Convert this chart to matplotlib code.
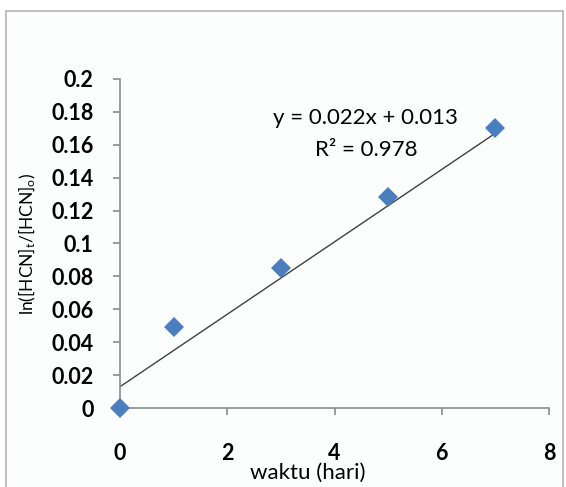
#!/usr/bin/env python3
"""Kinetika penurunan HCN: ln([HCN]t/[HCN]o) terhadap waktu, dengan garis regresi linear."""

import matplotlib
matplotlib.use("Agg")
import matplotlib.pyplot as plt
from matplotlib.patches import Rectangle

# waktu (hari) dan nilai ln([HCN]t/[HCN]o)
waktu = [0, 1, 3, 5, 7]
ln_ratio = [0.0, 0.049, 0.085, 0.128, 0.170]

# persamaan garis tren dan R²
slope = 0.022
intercept = 0.013
r2 = 0.978

x_ticks = [0, 2, 4, 6, 8]
y_ticks = [0, 0.02, 0.04, 0.06, 0.08, 0.1, 0.12, 0.14, 0.16, 0.18, 0.2]
y_tick_labels = ["0", "0.02", "0.04", "0.06", "0.08", "0.1", "0.12", "0.14", "0.16", "0.18", "0.2"]

FONT = "Lato"
AXIS_GREY = "#8c8c8c"
MARKER_BLUE = "#4a7ebf"

# upright subscripts in the same face as the rest of the text
plt.rcParams["mathtext.fontset"] = "custom"
plt.rcParams["mathtext.rm"] = FONT
plt.rcParams["mathtext.it"] = FONT

fig = plt.figure(figsize=(5.66, 4.87), dpi=100)
fig.patch.set_facecolor("white")

# chart-area frame
frame = Rectangle((0.0106, -0.02), 0.984, 0.997, transform=fig.transFigure,
                  facecolor="#fcfdfd", edgecolor="#b4b4b4", linewidth=1.2, zorder=-1)
fig.patches.append(frame)

ax = fig.add_axes([0.212, 0.162, 0.758, 0.676])
ax.set_zorder(2)
ax.set_facecolor("none")

ax.plot(waktu, ln_ratio, linestyle="none", marker="D", markersize=10.5,
        color=MARKER_BLUE, markeredgewidth=0, zorder=3, clip_on=False)

trend_x = [min(waktu), max(waktu)]
trend_y = [slope * v + intercept for v in trend_x]
ax.plot(trend_x, trend_y, color="#404040", linewidth=1.0, zorder=2)

ax.set_xlim(0, 8)
ax.set_ylim(0, 0.2)
ax.set_xticks(x_ticks)
ax.set_xticklabels([str(t) for t in x_ticks])
ax.set_yticks(y_ticks)
ax.set_yticklabels(y_tick_labels)

for side in ("top", "right"):
    ax.spines[side].set_visible(False)
for side in ("left", "bottom"):
    ax.spines[side].set_color(AXIS_GREY)
    ax.spines[side].set_linewidth(1.2)

ax.tick_params(axis="y", direction="out", length=5, width=1.2, color=AXIS_GREY, pad=14)
ax.tick_params(axis="x", direction="out", length=5, width=1.2, color=AXIS_GREY, pad=20)
for lbl in ax.get_xticklabels() + ax.get_yticklabels():
    lbl.set_fontfamily(FONT)
    lbl.set_fontweight("bold")
    lbl.set_fontsize(15.5)

ax.set_xlabel("waktu (hari)", fontfamily=FONT, fontsize=16, va="center")
ax.xaxis.set_label_coords(0.438, -0.197)
ax.set_ylabel(r"ln([HCN]$_\mathrm{t}$/[HCN]$_\mathrm{o}$)", fontfamily=FONT,
              fontsize=12.5, va="center")
ax.yaxis.set_label_coords(-0.216, 0.5)

ax.text(0.572, 0.881, f"y = {slope}x + {intercept}", transform=ax.transAxes,
        ha="center", va="center", fontfamily=FONT, fontsize=16)
ax.text(0.575, 0.784, f"R\u00b2 = {r2}", transform=ax.transAxes,
        ha="center", va="center", fontfamily=FONT, fontsize=16)

fig.savefig("out.png", dpi=100)
